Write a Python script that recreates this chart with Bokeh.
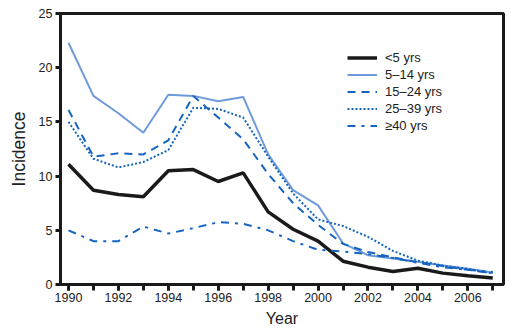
from bokeh.plotting import figure
from bokeh.models import Range1d, FixedTicker, Legend, LegendItem
from bokeh.embed import file_html
from bokeh.resources import INLINE

years = list(range(1990, 2008))
under5 = [11.1, 8.7, 8.3, 8.1, 10.5, 10.6, 9.5, 10.3, 6.7, 5.1, 4.0, 2.15, 1.6, 1.2, 1.5, 1.05, 0.8, 0.6]
age5_14 = [22.3, 17.4, 15.8, 14.0, 17.5, 17.4, 16.9, 17.3, 12.0, 8.7, 7.3, 3.8, 2.7, 2.4, 2.1, 1.75, 1.45, 1.1]
age15_24 = [16.1, 11.8, 12.1, 12.0, 13.3, 17.4, 15.4, 13.4, 10.2, 7.5, 5.5, 3.75, 3.0, 2.5, 2.05, 1.7, 1.35, 1.05]
age25_39 = [15.0, 11.6, 10.8, 11.3, 12.4, 16.3, 16.2, 15.4, 11.8, 8.4, 6.0, 5.4, 4.4, 3.1, 2.2, 1.75, 1.45, 1.0]
age40plus = [5.0, 4.0, 4.0, 5.35, 4.7, 5.2, 5.75, 5.6, 5.0, 4.0, 3.2, 3.05, 2.8, 2.45, 2.0, 1.6, 1.35, 1.15]
labels = ["<5 yrs", "5\u201314 yrs", "15\u201324 yrs", "25\u201339 yrs", "\u226540 yrs"]
y_ticks = [0, 5, 10, 15, 20, 25]
x_major = list(range(1990, 2008, 2))

FONT = "Liberation Sans"
DARK = "#1565c0"

p = figure(width=520, height=330, output_backend="svg", toolbar_location=None,
           x_range=Range1d(1989.68, 2007.43), y_range=Range1d(0, 25),
           min_border_left=60, min_border_right=17, min_border_top=13, min_border_bottom=46)
p.background_fill_color = "white"
p.border_fill_color = "white"
p.outline_line_color = "#1a1a1a"
p.outline_line_width = 3
p.xgrid.visible = False
p.ygrid.visible = False

r1 = p.line(years, under5, line_color="#1a1a1a", line_width=3.5)
r2 = p.line(years, age5_14, line_color="#6f9bdb", line_width=2)
r3 = p.line(years, age15_24, line_color=DARK, line_width=2, line_dash="8 6")
r4 = p.line(years, age25_39, line_color=DARK, line_width=2, line_dash="2 2")
r5 = p.line(years, age40plus, line_color=DARK, line_width=2, line_dash="8 6 3 6")

legend = Legend(items=[LegendItem(label=l, renderers=[r]) for l, r in zip(labels, [r1, r2, r3, r4, r5])],
                location=(287, 151), padding=0, margin=0, spacing=2,
                glyph_width=30, glyph_height=15, label_height=15, label_width=66,
                label_standoff=8, border_line_color=None, background_fill_alpha=0,
                label_text_font=FONT, label_text_font_size="13px", label_text_color="#222222")
p.add_layout(legend)

for ax in (p.xaxis, p.yaxis):
    ax.axis_line_width = 3
    ax.axis_line_color = "#1a1a1a"
    ax.major_tick_line_width = 3
    ax.major_tick_line_color = "#1a1a1a"
    ax.minor_tick_line_width = 3
    ax.minor_tick_line_color = "#1a1a1a"
    ax.major_tick_in = 0
    ax.minor_tick_in = 0
    ax.major_label_text_font = FONT
    ax.major_label_text_font_size = "12.5px"
    ax.major_label_text_color = "#222222"
    ax.axis_label_text_font = FONT
    ax.axis_label_text_font_style = "normal"
    ax.axis_label_text_color = "#222222"

p.xaxis.ticker = FixedTicker(ticks=x_major, minor_ticks=years)
p.xaxis.major_tick_out = 6
p.xaxis.minor_tick_out = 6
p.xaxis.major_label_standoff = 2
p.xaxis.axis_label = "Year"
p.xaxis.axis_label_text_font_size = "16px"
p.xaxis.axis_label_standoff = 5

p.yaxis.ticker = FixedTicker(ticks=y_ticks, minor_ticks=[])
p.yaxis.major_tick_out = 5
p.yaxis.minor_tick_out = 0
p.yaxis.major_label_standoff = 3
p.yaxis.axis_label = "Incidence"
p.yaxis.axis_label_text_font_size = "17.5px"
p.yaxis.axis_label_standoff = 7

open("out.html", "w").write(file_html(p, INLINE))
